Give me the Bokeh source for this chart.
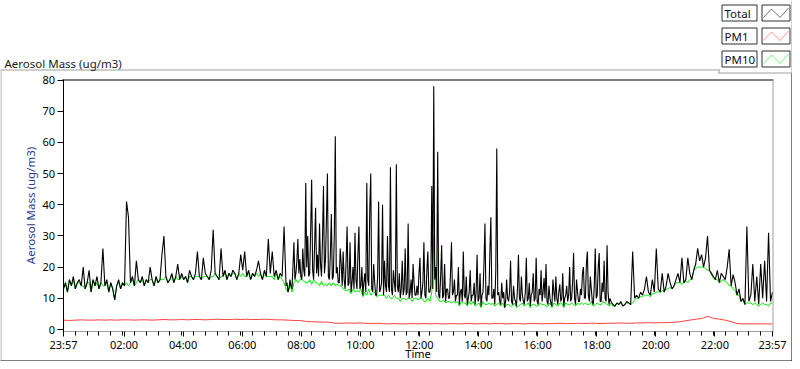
import numpy as np
from bokeh.plotting import figure
from bokeh.models import Range1d, FixedTicker, BoxAnnotation, PolyAnnotation, Label
from bokeh.embed import file_html
from bokeh.resources import INLINE

# ---------------- data ----------------
series_names = ["Total", "PM1", "PM10"]
tick_labels = ["23:57", "02:00", "04:00", "06:00", "08:00", "10:00", "12:00",
               "14:00", "16:00", "18:00", "20:00", "22:00", "23:57"]
tick_minutes = [0, 123, 243, 363, 483, 603, 723, 843, 963, 1083, 1203, 1323, 1440]
y_ticks = [0, 10, 20, 30, 40, 50, 60, 70, 80]

# Total aerosol mass (minutes after 23:57): every 4 min, every 2 min in the busy
# 07:29-18:33 stretch, then every 4 min again
total_early = [
    13, 15, 12, 16, 14, 17, 13, 15, 16, 14,
    20, 13, 15, 19, 12, 16, 14, 17, 13, 15,
    26, 14, 16, 12, 15, 13, 9.5, 14, 16, 13,
    15, 14, 41, 36, 15, 17, 14, 22, 16, 15,
    17, 14, 16, 15, 20, 16, 14, 17, 15, 16,
    24, 30, 17, 15, 16, 18, 15, 17, 21, 16,
    18, 16, 17, 15, 19, 17, 16, 18, 25, 17,
    16, 23, 18, 17, 16, 19, 32, 18, 17, 16,
    26, 17, 19, 16, 18, 17, 19, 18, 16, 18,
    24, 19, 25, 17, 19, 16, 18, 17, 19, 22,
    18, 16, 19, 17, 29, 18, 25, 17, 19, 16,
    18, 17, 33]
total_busy = [
    14, 15, 12, 13, 16, 14, 13, 20, 28, 16, 18, 22, 29, 18,
    22.6, 17, 16, 26, 19, 17, 47, 20, 30, 17, 18, 32, 48, 19, 16, 27, 39, 18, 24, 17,
    34, 21, 17, 29, 46, 18, 22, 35, 50, 17, 16, 24, 37, 16, 17, 30, 62, 18, 20, 15,
    15, 26, 21, 14, 25, 16, 13, 22, 33, 14, 15, 28, 12, 15, 20, 13, 31, 16, 13, 24,
    33, 13, 14, 20, 11, 15, 18, 12, 47, 16, 14, 38, 50, 13, 12, 21, 15, 11, 11, 17,
    41, 12, 13, 15, 40, 11, 22, 14, 12, 30, 14, 12, 52, 13, 11, 19, 15, 12, 53, 14,
    12, 18, 10, 13, 22, 11, 13, 26, 11, 12, 34, 10, 12, 16, 10, 21, 15, 11, 11, 14,
    11, 18, 23, 10, 12, 15, 28, 11, 10, 19, 25, 12, 12, 14, 46, 13, 78, 16, 20, 12,
    57, 11, 10, 17, 27, 10, 11, 21, 9, 13, 13, 10, 10, 18, 28, 11, 12, 16, 9, 11,
    11, 20, 8, 12, 13, 9, 25, 11, 10, 17, 8, 10, 12, 19, 9, 11, 11, 15, 8, 12,
    24, 9, 10, 18, 7.5, 11, 12, 21, 34, 10, 9, 14, 11, 25, 36, 10, 10, 13, 8, 19,
    58, 11, 12, 9, 8, 15, 10, 12, 7, 9, 16,
    10, 9, 12, 22, 9, 8, 14, 10, 9,
    7.5, 13, 24, 10, 9, 17, 11, 9, 8, 12, 23, 9, 10, 15, 7.5, 11, 12, 18, 9, 10,
    23, 9, 8, 13, 11, 19, 9, 12, 16.5, 10, 21, 9, 8, 14, 10, 8.5, 7.5, 16, 12, 9,
    17, 10, 8, 12, 14.5, 9, 10, 18, 7.5, 10, 11, 14, 9, 11, 20, 9, 10, 15, 24.5, 10,
    8, 16, 12, 9, 9, 13, 11, 18, 20, 10, 10, 21, 25, 11, 9, 17, 13, 9, 8, 14,
    26, 10, 11, 20, 24.5, 9, 9, 15, 12, 22, 10, 9, 27, 12, 8, 10, 9, 8.5, 8]
total_late = [
    7.5, 8.5, 8, 9, 7.5, 8, 9, 8.5, 8, 25,
    10, 11, 10, 12, 11, 13, 17, 12, 11, 16,
    12, 26, 13, 12, 18, 12, 14, 18, 15, 13,
    14, 16, 18, 15, 23, 15, 16, 23, 18, 16,
    19, 21, 26, 22, 24, 20, 23, 30, 19, 18,
    17, 16, 19, 15, 18, 17, 16, 20, 25.7, 14,
    17.6, 15, 11, 13, 9, 10, 8, 33, 9, 11,
    21, 9, 17, 8, 21, 10, 22, 9, 31, 9,
    12]
total_minutes = np.concatenate([np.arange(0, 449, 4), np.arange(452, 1117, 2),
                                np.arange(1120, 1441, 4)])
total = total_early + total_busy + total_late

# PM10, one reading every 4 minutes
pm10 = [
    13, 15, 12, 16, 14, 16, 13, 15, 15, 14,
    14, 13, 15, 15, 12, 16, 14, 15, 13, 15,
    14, 14, 15, 12, 15, 13, 9.5, 14, 15, 13,
    15, 14, 15, 14, 15, 16, 14, 15, 16, 15,
    16, 14, 16, 15, 16, 16, 14, 16, 15, 16,
    16, 16, 17, 15, 16, 17, 15, 17, 16, 16,
    17, 16, 17, 15, 17, 17, 16, 17, 17, 17,
    16, 17, 17, 17, 16, 17, 17, 18, 17, 16,
    17, 17, 18, 16, 18, 17, 18, 18, 16, 18,
    17, 18, 17, 17, 18, 16, 18, 17, 18, 17,
    18, 16, 18, 17, 17, 17, 17, 16, 18, 16,
    17, 16, 15, 13, 12, 15, 12, 15, 16, 15,
    16, 16, 15.5, 15, 15, 16, 14.5, 16, 15, 15,
    14, 15.5, 14, 14.5, 14, 15, 14, 15, 14, 14.5,
    14, 14, 13, 12.5, 12.5, 13, 11.5, 13, 12, 12.5,
    12, 13, 10.5, 12, 11, 13, 11, 11.5, 12, 10.5,
    11, 11, 11, 11, 10, 11, 10, 10, 11, 10,
    10, 9, 10, 10, 9.5, 10, 10, 9, 10, 10,
    9.5, 10, 10, 9, 9, 10, 9, 12, 30, 11,
    10, 9, 9, 9.5, 8.5, 9, 9, 8.5, 9, 8.5,
    9, 7.5, 9, 8.5, 8.5, 7.5, 9, 8, 9, 7.5,
    8, 8.5, 7, 9, 8, 8, 8.5, 8, 8.5, 7.5,
    8, 8.5, 7.5, 8.5, 7, 8, 8, 7.5, 7.5, 8.5,
    7, 7.5, 8, 8.5, 7.5, 8, 8.5, 7, 8, 8,
    7.5, 7.5, 8.5, 8, 8, 7.5, 7.5, 8.5, 7, 8.5,
    8, 7.5, 8.5, 8.5, 7, 8.5, 8, 8, 8.5, 8,
    7.5, 8.5, 8, 8.5, 8, 8.5, 8, 8, 9, 7.5,
    8, 8.5, 8, 8, 9, 8.5, 8, 7.5, 8.5, 7.5,
    7.5, 8.5, 8, 8.5, 7.5, 8, 8.5, 8.5, 8, 8.5,
    9.5, 10, 10, 10.5, 10.5, 11, 11, 11, 10.5, 11.5,
    11.5, 12, 12, 12, 12.5, 12, 13, 13, 13.5, 13,
    14, 15, 15, 15, 14.5, 15, 15.5, 15, 16, 16,
    19, 19.5, 20, 20, 20, 20, 19.5, 19, 19, 17.5,
    16.5, 16, 16, 15, 15.5, 16, 15.5, 15, 14, 14,
    13, 12.5, 11, 11, 9, 9.5, 8, 8.5, 8.5, 8.5,
    8, 8.5, 8, 7.5, 8, 8.5, 8, 8, 7.5, 8.5,
    8.5]

# PM1, one reading every 12 minutes
pm1 = [
    3.0, 2.9, 3.0, 3.1, 3.0, 3.0, 3.1, 3.0, 3.1, 3.0,
    3.1, 3.1, 3.0, 3.1, 3.1, 3.0, 3.1, 3.2, 3.1, 3.1,
    3.2, 3.1, 3.2, 3.2, 3.1, 3.2, 3.3, 3.2, 3.2, 3.3,
    3.2, 3.3, 3.2, 3.2, 3.3, 3.2, 3.1, 3.1, 3.0, 2.9,
    2.9, 2.6, 2.5, 2.4, 2.4, 2.3, 2.0, 2.0, 2.1, 2.0,
    2.1, 2.0, 1.9, 2.0, 1.9, 1.8, 1.9, 1.8, 1.8, 1.9,
    1.8, 1.9, 1.8, 1.9, 1.8, 1.8, 1.9, 1.8, 1.9, 1.9,
    1.8, 1.9, 1.8, 1.9, 1.9, 1.8, 1.9, 1.9, 1.8, 1.9,
    1.9, 1.8, 1.9, 1.9, 2.0, 1.9, 1.9, 2.0, 1.9, 2.0,
    2.0, 1.9, 2.0, 2.0, 2.1, 2.0, 2.0, 2.1, 2.1, 2.2,
    2.1, 2.2, 2.2, 2.3, 2.4, 2.7, 3.0, 3.3, 3.5, 4.2,
    3.6, 3.3, 3.0, 2.5, 1.9, 1.8, 1.8, 1.8, 1.8, 1.8,
    1.8]

n_tot = min(len(total), len(total_minutes))
t_total = total_minutes[:n_tot]
total = total[:n_tot]
t_pm10 = np.linspace(0, 1440, len(pm10))
t_pm1 = np.linspace(0, 1440, len(pm1))

# ---------------- layout (pixel geometry of the canvas) ----------------
W, H = 792, 361
PX0, PX1 = 63.0, 772.0      # pixel x of first / last minute
PY0, PY1 = 329.0, 79.5      # pixel y of value 0 / 80
FONT = "Noto Sans"
COL_TOTAL, COL_PM1, COL_PM10 = "#000000", "#ff4040", "#00ee00"
GRAY = "#a0a0a0"


def dx(px):
    return (px - PX0) * 1440.0 / (PX1 - PX0)


def dy(py):
    return (PY0 - py) * 80.0 / (PY0 - PY1)


p = figure(width=W, height=H, output_backend="svg", toolbar_location=None, title=None,
           x_range=Range1d(dx(0), dx(W)), y_range=Range1d(dy(H), dy(0)),
           min_border=0, background_fill_color="white", border_fill_color="white")
p.xgrid.visible = False
p.ygrid.visible = False
p.outline_line_color = None

p.line(t_pm10, pm10, line_color=COL_PM10, line_width=1)
p.line(t_total, total, line_color=COL_TOTAL, line_width=1.1)
p.line(t_pm1, pm1, line_color=COL_PM1, line_width=1)


def rect(x0, y0, x1, y1, fill=None, line=None):
    p.add_layout(BoxAnnotation(left=dx(x0), right=dx(x1), top=dy(y0), bottom=dy(y1),
                               fill_color=fill if fill else "white",
                               fill_alpha=1 if fill else 0,
                               line_color=line, line_alpha=1 if line else 0,
                               line_width=1, level="overlay"))


# plot area border: black top, gray right
rect(62, 79, 773, 80, fill="#000000")
rect(772, 79, 773, 331, fill=GRAY)

xa = p.xaxis[0]
xa.fixed_location = dy(330.5)
xa.bounds = (dx(62), dx(773))
xa.ticker = FixedTicker(ticks=tick_minutes, minor_ticks=list(range(0, 1441, 24)))
xa.major_label_overrides = {m: s for m, s in zip(tick_minutes, tick_labels)}
xa.axis_line_color = GRAY
xa.major_tick_line_color = "black"
xa.major_tick_out = 5
xa.major_tick_in = 0
xa.minor_tick_line_color = "black"
xa.minor_tick_out = 4
xa.minor_tick_in = 0
xa.major_label_text_font = FONT
xa.major_label_text_font_size = "11px"
xa.major_label_text_color = "#000000"
xa.major_label_standoff = 1
xa.axis_label = "Time"
xa.axis_label_text_font = FONT
xa.axis_label_text_font_size = "11px"
xa.axis_label_text_font_style = "normal"
xa.axis_label_text_color = "#000000"
xa.axis_label_standoff = -10

ya = p.yaxis[0]
ya.fixed_location = dx(62.5)
ya.bounds = (dy(331), dy(79))
ya.ticker = FixedTicker(ticks=y_ticks)
ya.axis_line_color = "black"
ya.major_tick_line_color = "black"
ya.major_tick_out = 6
ya.major_tick_in = 0
ya.minor_tick_line_color = None
ya.major_label_text_font = FONT
ya.major_label_text_font_size = "11px"
ya.major_label_text_color = "#000000"
ya.major_label_standoff = 2
ya.axis_label = "Aerosol Mass (ug/m3)"
ya.axis_label_text_font = FONT
ya.axis_label_text_font_size = "11.5px"
ya.axis_label_text_font_style = "normal"
ya.axis_label_text_color = "#23408e"
ya.axis_label_standoff = 2

# panel edges
rect(0, 69, 719, 70, fill=GRAY)
rect(0, 69, 1, 361, fill=GRAY)
rect(718, 69, 719, 73, fill=GRAY)
rect(718, 72, 792, 73, fill=GRAY)
rect(791, 0, 792, 73, fill=GRAY)
rect(791, 73, 792, 361, fill="#000000")
rect(0, 360, 792, 361, fill="#000000")

p.add_layout(Label(x=dx(4), y=dy(63), text="Aerosol Mass (ug/m3)", level="overlay",
                   text_font=FONT, text_font_size="11.5px", text_color="#1a1a1a",
                   text_baseline="alphabetic", text_align="left"))

# legend
for name, col, top in zip(series_names, [COL_TOTAL, COL_PM1, COL_PM10], [4, 27, 50]):
    rect(721.5, top + 0.5, 756.5, top + 16.5, fill="white", line="#303030")
    rect(761.5, top + 0.5, 789.5, top + 16.5, fill="white", line="#303030")
    p.add_layout(Label(x=dx(724), y=dy(top + 9), text=name, text_font=FONT, level="overlay",
                       text_font_size="11.5px", text_color="#101010",
                       text_baseline="middle", text_align="left"))
    zx = [763, 771, 779.5, 788]
    zy = [top + 13, top + 4.5, top + 13, top + 3.5]
    px_path = zx + zx[-2:0:-1]
    py_path = zy + zy[-2:0:-1]
    p.add_layout(PolyAnnotation(xs=[dx(v) for v in px_path], ys=[dy(v) for v in py_path],
                                fill_alpha=0, line_color=col, line_width=1, level="overlay"))

open("out.html", "w").write(file_html(p, INLINE))
